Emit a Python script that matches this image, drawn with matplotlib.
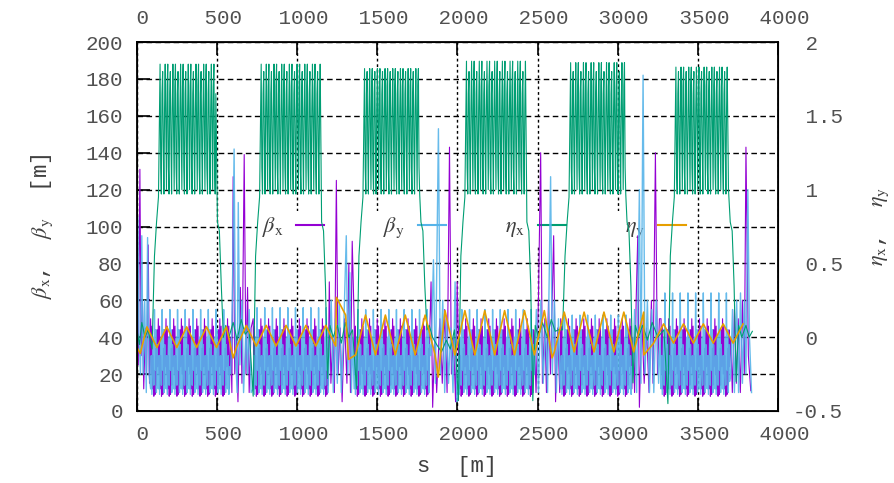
import numpy as np
import matplotlib.pyplot as plt

plt.rcParams['font.family'] = ['Liberation Mono', 'DejaVu Sans']
plt.rcParams['mathtext.fontset'] = 'stix'

# lattice layout, s in m (six sectors)
arc_start = [144, 775, 1420, 2056, 2706, 3363]
arc_end = [494, 1144, 1764, 2425, 3050, 3694]
arc_top = [1.85, 1.85, 1.82, 1.87, 1.86, 1.83]
dip_in = [-0.08, -0.40, -0.35, -0.43, 0.05, -0.45]
dip_out = [0.0, -0.28, 0.05, -0.43, -0.31, -0.30]
band_start = [85, 725, 1355, 2003, 2644, 3270]
band_end = [580, 1194, 1830, 2475, 3090, 3700]
by_band_top = [55, 56, 55, 55, 52, 64]

# one 48 m FODO cell of the arcs
cell_step = 4
bx_cell = [50, 20, 46, 12, 30, 8, 22, 9, 34, 14, 44, 24]
by_cell = [12, 30, 9, 24, 40, 14, 55, 22, 44, 10, 36, 16]
eta_step = 4
eta_cell = [1.85, 1.15, 0.97, 1.65, 1.80, 1.30, 0.97, 1.55, 1.85, 1.40, 1.00, 1.70]

# eta_y zigzag, per sector
eta_y_step = 62
sector_len = 640
s_end = 3840
eta_y_hi = [0.07, 0.08, 0.15, 0.18, 0.17, 0.09]
eta_y_lo = [-0.07, -0.06, -0.12, -0.12, -0.10, -0.04]
eta_y_extra = [(20, -0.11), (600, -0.14), (1244, 0.27), (1320, -0.15),
               (1880, -0.27), (2590, -0.14), (3163, -0.12)]

# insertion regions: beta spikes
ins_bx = [(0, 40), (8, 25), (18, 131), (26, 30), (34, 60), (42, 12), (52, 45), (60, 20), (70, 90), (78, 15),
          (585, 40), (592, 10), (600, 127), (610, 20), (620, 40), (630, 5), (645, 67), (655, 15), (669, 139),
          (680, 20), (690, 67), (700, 10), (712, 45),
          (1200, 70), (1210, 15), (1222, 40), (1232, 10), (1244, 125), (1255, 20), (1268, 45), (1280, 5),
          (1295, 50), (1310, 15), (1322, 80), (1332, 10), (1343, 92),
          (1835, 70), (1845, 2), (1858, 40), (1870, 10), (1890, 50), (1905, 15), (1920, 55), (1935, 10),
          (1950, 143), (1962, 20), (1975, 40), (1988, 5), (1998, 70),
          (2480, 40), (2490, 10), (2505, 60), (2519, 140), (2530, 15), (2545, 50), (2555, 10), (2568, 60),
          (2580, 20), (2600, 95), (2612, 5), (2625, 45), (2638, 10),
          (3095, 40), (3105, 10), (3115, 60), (3125, 95), (3135, 2), (3150, 50), (3165, 15), (3180, 45),
          (3195, 10), (3210, 60), (3220, 15), (3235, 140), (3248, 20), (3260, 50),
          (3705, 40), (3715, 10), (3728, 55), (3740, 15), (3752, 50), (3765, 10), (3778, 60), (3790, 20),
          (3800, 143), (3815, 30), (3830, 11)]
ins_by = [(0, 30), (5, 105), (12, 40), (22, 20), (30, 95), (38, 20), (48, 60), (58, 10), (66, 94), (75, 20),
          (585, 20), (595, 60), (606, 142), (615, 30), (625, 10), (632, 113), (642, 25), (655, 60), (665, 10),
          (680, 45), (690, 20), (700, 55), (712, 10),
          (1200, 30), (1212, 60), (1225, 10), (1238, 50), (1250, 15), (1262, 60), (1275, 10), (1290, 45),
          (1306, 95), (1316, 20), (1328, 75), (1338, 10), (1346, 40),
          (1835, 30), (1850, 82), (1862, 15), (1881, 153), (1893, 20), (1908, 60), (1920, 10), (1932, 50),
          (1944, 15), (1958, 45), (1972, 10), (1985, 70), (1996, 5),
          (2480, 20), (2492, 55), (2505, 10), (2520, 60), (2535, 15), (2550, 50), (2562, 10), (2581, 127),
          (2592, 20), (2605, 60), (2617, 10), (2630, 50), (2640, 15),
          (3095, 20), (3105, 55), (3118, 10), (3135, 120), (3145, 15), (3158, 182), (3170, 20), (3185, 60),
          (3198, 10), (3212, 55), (3225, 10), (3240, 60), (3255, 15), (3265, 40),
          (3705, 20), (3716, 55), (3728, 10), (3742, 60), (3754, 10), (3766, 64), (3778, 15), (3790, 60),
          (3800, 20), (3812, 120), (3822, 40), (3835, 10)]

# eta_x in the straight sections
eta_x_straight = [(0, 0.05), (15, -0.05), (30, 0.10), (50, 0.0),
                  (600, 0.10), (625, -0.02), (650, 0.12), (675, 0.02),
                  (1250, 0.08), (1275, -0.04), (1300, 0.10), (1322, 0.0),
                  (1870, -0.05), (1900, -0.10), (1930, -0.02), (1955, -0.08),
                  (2530, 0.10), (2560, 0.0), (2585, 0.12), (2610, 0.04),
                  (3155, 0.08), (3185, -0.02), (3215, 0.10), (3250, 0.0),
                  (3800, 0.08), (3820, 0.0), (3840, 0.04)]
eta_in_shape = [(-75, 0.05), (-50, None), (-35, 0.55), (-22, 0.78), (-10, 0.95)]
eta_out_shape = [(8, 0.78), (20, 0.72), (32, 0.35), (45, None), (60, 0.08), (80, 0.0)]

# build the series
n_cell = len(bx_cell)
bx_pts, by_pts = list(ins_bx), list(ins_by)
for i in range(6):
    s, k = band_start[i], 0
    while s <= band_end[i]:
        bx_pts.append((s, bx_cell[k % n_cell]))
        v = by_cell[k % n_cell]
        by_pts.append((s, by_band_top[i] if v == 55 else v))
        s += cell_step
        k += 1

n_eta = len(eta_cell)
ex_pts = list(eta_x_straight)
for i in range(6):
    a0, a1 = arc_start[i], arc_end[i]
    for ds, v in eta_in_shape:
        ex_pts.append((a0 + ds, dip_in[i] if v is None else v))
    s, k = a0, 0
    while s <= a1:
        v = eta_cell[k % n_eta]
        ex_pts.append((s, arc_top[i] if v == 1.85 else v))
        s += eta_step
        k += 1
    for ds, v in eta_out_shape:
        ex_pts.append((a1 + ds, dip_out[i] if v is None else v))

ey_pts = list(eta_y_extra)
s, k = 0, 0
while s <= s_end:
    sec = min(s // sector_len, 5)
    ey_pts.append((s, eta_y_hi[sec] if k % 2 else eta_y_lo[sec]))
    s += eta_y_step
    k += 1


def xy(pts):
    pts = sorted(pts)
    return np.array([p[0] for p in pts]), np.array([p[1] for p in pts])


def eta2left(v):
    return (np.asarray(v) + 0.5) * 80.0


fig = plt.figure(figsize=(8.94, 4.83), dpi=100)
ax = fig.add_axes([137 / 894, 72 / 483, 641 / 894, 369 / 483])
ax.set_axisbelow(True)

sx, vx = xy(bx_pts)
sy, vy = xy(by_pts)
se, ve = xy(ex_pts)
sg, vg = xy(ey_pts)
l1, = ax.plot(sx, vx, color='#9400d3', lw=0.8, label=r'$\beta_\mathrm{x}$')
l2, = ax.plot(sy, vy, color='#56b4e9', lw=1.0, alpha=0.9, label=r'$\beta_\mathrm{y}$')
l3, = ax.plot(se, eta2left(ve), color='#009e73', lw=0.8, label=r'$\eta_\mathrm{x}$')
l4, = ax.plot(sg, eta2left(vg), color='#e69f00', lw=1.2, label=r'$\eta_\mathrm{y}$')

ax.set_xlim(0, 4000)
ax.set_ylim(0, 200)
xt = np.arange(0, 4001, 500)
ax.set_xticks(xt)
ax.set_xticklabels([' %d' % t for t in xt])
ax.set_yticks(np.arange(0, 201, 20))
ax.tick_params(direction='in', length=9.5, width=1.2, top=True, right=True,
               labeltop=True, labelsize=15, labelcolor='#505050', pad=10)
ax.xaxis.grid(True, color='black', linestyle=(0, (2, 2)), linewidth=1.0)
ax.yaxis.grid(True, color='black', linestyle=(0, (4, 2.5)), linewidth=1.0)
for sp in ax.spines.values():
    sp.set_linewidth(1.3)

ax2 = ax.twinx()
ax2.set_ylim(-0.5, 2)
et = [-0.5, 0, 0.5, 1, 1.5, 2]
ax2.set_yticks(et)
ax2.set_yticklabels(['%g' % t if t < 0 else ' %g' % t for t in et])
ax2.tick_params(length=0, labelsize=15, labelcolor='#505050', pad=10.5)

ax.set_xlabel('s  [m]', fontsize=16, color='#404040')
ax.xaxis.set_label_coords(0.5, -0.122)
ax.set_ylabel(r'$\beta_\mathrm{x}$,  $\beta_\mathrm{y}$  [m]', fontsize=16, color='#404040')
ax.yaxis.set_label_coords(-0.128, 0.5)
ax2.set_ylabel(r'$\eta_\mathrm{x}$,  $\eta_\mathrm{y}$', fontsize=16, color='#404040')
ax2.yaxis.set_label_coords(1.144, 0.5)

leg = ax.legend(handles=[l1, l2, l3, l4], loc='center left', bbox_to_anchor=(0.17, 0.496),
                ncol=4, markerfirst=False, frameon=True, facecolor='white', edgecolor='none',
                framealpha=1, fancybox=False, fontsize=16, handlelength=1.25,
                handletextpad=0.6, columnspacing=2.65, borderpad=0.2)
for t in leg.get_texts():
    t.set_color('#404040')
for h in leg.get_lines():
    h.set_linewidth(1.5)
    h.set_alpha(1)
leg.set_zorder(1.5)

fig.savefig('out.png', dpi=100)
